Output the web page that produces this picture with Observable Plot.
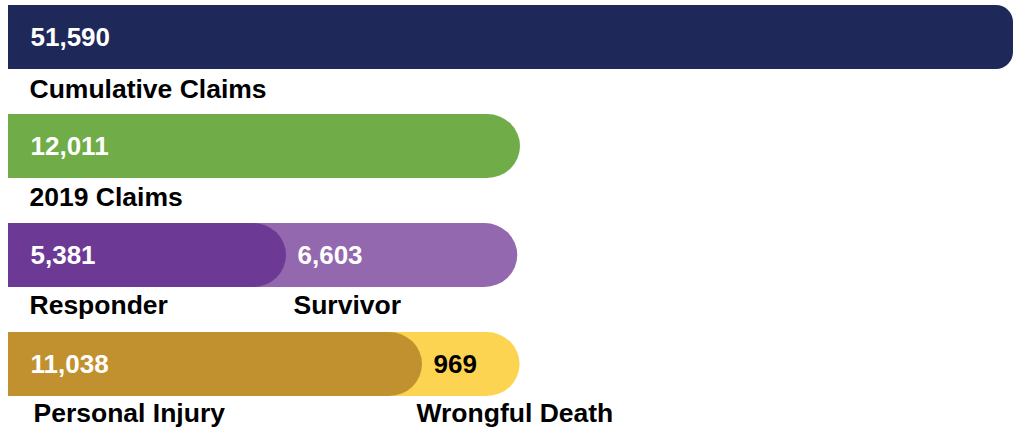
<!DOCTYPE html>
<html>
<head>
<meta charset="utf-8">
<script src="https://cdn.jsdelivr.net/npm/d3@7"></script>
<script src="https://cdn.jsdelivr.net/npm/@observablehq/plot@0.6"></script>
<style>
  body { margin: 0; background: #ffffff; }
  #chart svg { display: block; }
</style>
</head>
<body>
<div id="chart"></div>
<script>
// ---- data ----
const rowKeys = ["cumulative", "claims2019", "claimant", "claimType"];
const primaryLabels = ["Cumulative Claims", "2019 Claims", "Responder", "Personal Injury"];
const primaryValues = [51590, 12011, 5381, 11038];
const secondaryLabels = [null, null, "Survivor", "Wrongful Death"];
const secondaryValues = [null, null, 6603, 969];

// ---- styles ----
const palette = {
  "Cumulative Claims": "#1e2859",
  "2019 Claims": "#70ac48",
  "Responder": "#6c3994",
  "Survivor": "#9468ae",
  "Personal Injury": "#c2912f",
  "Wrongful Death": "#fdd452"
};
const font = "'Liberation Sans', Arial, Helvetica, sans-serif";
const fmt = d3.format(",");

const rows = rowKeys.map((row, i) => ({
  row,
  label: primaryLabels[i],
  value: primaryValues[i],
  label2: secondaryLabels[i],
  value2: secondaryValues[i],
  total: secondaryValues[i] == null ? null : primaryValues[i] + secondaryValues[i]
}));
const first = rows.filter(d => d.row === "cumulative");
const singles = rows.filter(d => d.row === "claims2019");
const splits = rows.filter(d => d.value2 != null);

const valueText = {y: "row", fontSize: 26, fontWeight: "bold", fontFamily: font, textAnchor: "start"};
const labelText = {y: "row", fontSize: 26.5, fontWeight: "bold", fontFamily: font, textAnchor: "start", fill: "#000000"};

const chart = Plot.plot({
  width: 1013,
  height: 431,
  marginLeft: 0,
  marginRight: 0,
  marginTop: 4,
  marginBottom: 33,
  style: {fontFamily: font, background: "#ffffff"},
  x: {
    type: "linear",
    domain: [0, primaryValues[2], primaryValues[3], primaryValues[1], primaryValues[0]],
    range: [8, 286, 422, 520, 1013],
    axis: null
  },
  y: {domain: rowKeys, paddingInner: 0.41, paddingOuter: 0, axis: null},
  marks: [
    // cumulative bar (reaches the right edge)
    Plot.barX(first, {x1: () => 0, x2: "value", y: "row", fill: d => palette[d.label], rx: 17}),
    Plot.barX(first, {x1: () => 0, x2: "value", y: "row", fill: d => palette[d.label], insetRight: 17}),
    // 2019 claims
    Plot.barX(singles, {x1: () => 0, x2: "value", y: "row", fill: d => palette[d.label], rx: 33}),
    Plot.barX(singles, {x1: () => 0, x2: "value", y: "row", fill: d => palette[d.label], insetRight: 33}),
    // split bars: lighter total underneath, primary part on top
    Plot.barX(splits, {x1: () => 0, x2: "total", y: "row", fill: d => palette[d.label2], rx: 33}),
    Plot.barX(splits, {x1: () => 0, x2: "value", y: "row", fill: d => palette[d.label], rx: 33}),
    Plot.barX(splits, {x1: () => 0, x2: "value", y: "row", fill: d => palette[d.label], insetRight: 33}),
    // values inside bars
    Plot.text(rows, {...valueText, x: () => 0, dx: 22, text: d => fmt(d.value), fill: "white"}),
    Plot.text(splits, {...valueText, x: "value", dx: 11, text: d => fmt(d.value2),
      fill: d => d.label2 === "Wrongful Death" ? "#000000" : "#ffffff"}),
    // category labels under bars
    Plot.text(rows.filter(d => d.row === "cumulative"), {...labelText, x: () => 0, dx: 21, dy: 52, text: "label"}),
    Plot.text(rows.filter(d => d.row === "claims2019"), {...labelText, x: () => 0, dx: 21, dy: 51, text: "label"}),
    Plot.text(rows.filter(d => d.row === "claimant"), {...labelText, x: () => 0, dx: 21, dy: 50, text: "label"}),
    Plot.text(splits.filter(d => d.row === "claimant"), {...labelText, x: "value", dx: 7, dy: 50, text: "label2"}),
    Plot.text(rows.filter(d => d.row === "claimType"), {...labelText, x: () => 0, dx: 25, dy: 49, text: "label"}),
    Plot.text(splits.filter(d => d.row === "claimType"), {...labelText, x: "value", dx: -6, dy: 49, text: "label2"})
  ]
});
document.getElementById("chart").append(chart);
</script>
</body>
</html>
